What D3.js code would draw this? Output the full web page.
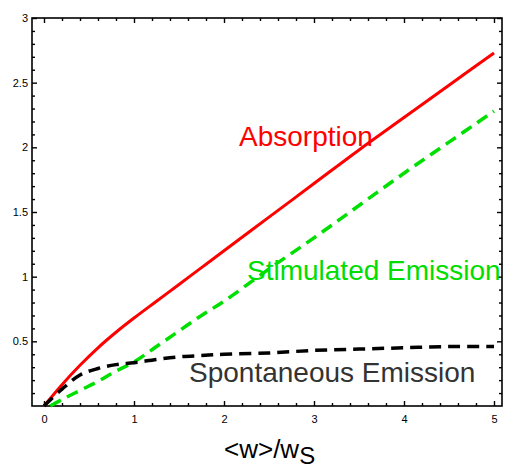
<!DOCTYPE html>
<html>
  <head>
    <meta charset="utf-8">
    <title>Absorption and emission</title>
    <script src="https://d3js.org/d3.v7.min.js"></script>
    <style>
      body { margin: 0; background: #fff; }
      text { font-family: "Liberation Sans", Arial, sans-serif; }
      .tick line { stroke: #000; stroke-width: 1.4; }
      .tick text { font-size: 11px; fill: #000; }
    </style>
  </head>
  <body>
    <div id="chart"></div>
    <script>
      // data
      var xs = [0, 0.2, 0.4, 0.6, 0.8, 1, 1.25, 1.5, 1.75, 2, 2.5, 3, 3.5, 4, 4.5, 5];
      var absorption = [0, 0.165, 0.315, 0.45, 0.57, 0.68, 0.81, 0.94, 1.07, 1.20, 1.46, 1.72, 1.98, 2.23, 2.48, 2.73];
      var spontaneous = [0, 0.13, 0.24, 0.29, 0.32, 0.335, 0.36, 0.38, 0.39, 0.40, 0.41, 0.43, 0.44, 0.45, 0.46, 0.46];
      var stimulatedX = [0.07, 0.2, 0.4, 0.6, 0.8, 1, 1.25, 1.5, 1.75, 2, 2.5, 3, 3.5, 4, 4.5, 5];
      var stimulated = [0, 0.05, 0.12, 0.19, 0.27, 0.34, 0.46, 0.58, 0.70, 0.81, 1.06, 1.30, 1.55, 1.80, 2.04, 2.28];
      var xTicks = [0, 1, 2, 3, 4, 5];
      var yTicks = [0.5, 1, 1.5, 2, 2.5, 3];
      var yTickLabels = ["0.5", "1", "1.5", "2", "2.5", "3"];

      var width = 506, height = 471;
      var frame = { left: 32, right: 502, top: 18, bottom: 406 };

      var svg = d3.select("#chart")
        .append("svg")
          .attr("width", width)
          .attr("height", height);

      var x = d3.scaleLinear()
        .domain([-12 / 90, 470 / 90 - 12 / 90])
        .range([frame.left, frame.right]);
      var y = d3.scaleLinear()
        .domain([0, 3])
        .range([frame.bottom, frame.top]);

      // minor ticks every 0.2 on x and 0.1 on y
      var xMinor = d3.range(0, 5.01, 0.2).filter(function(d) { return Math.abs(d - Math.round(d)) > 0.01; });
      var yMinor = d3.range(0.1, 3, 0.1).filter(function(d) { return Math.abs(d * 2 - Math.round(d * 2)) > 0.01; });

      function addAxis(axis, tx, ty) {
        var g = svg.append("g")
          .attr("transform", "translate(" + tx + "," + ty + ")")
          .call(axis);
        g.select(".domain").remove();
        return g;
      }

      // bottom + left with labels, top + right mirrored without
      addAxis(d3.axisBottom(x).tickValues(xTicks).tickSize(-5).tickPadding(9).tickFormat(d3.format("d")), 0, frame.bottom);
      addAxis(d3.axisBottom(x).tickValues(xMinor).tickSize(-3).tickFormat(""), 0, frame.bottom);
      addAxis(d3.axisTop(x).tickValues(xTicks).tickSize(-5).tickFormat(""), 0, frame.top);
      addAxis(d3.axisTop(x).tickValues(xMinor).tickSize(-3).tickFormat(""), 0, frame.top);
      addAxis(d3.axisLeft(y).tickValues(yTicks).tickSize(-5).tickPadding(4)
        .tickFormat(function(d, i) { return yTickLabels[i]; }), frame.left, 0);
      addAxis(d3.axisLeft(y).tickValues(yMinor).tickSize(-3).tickFormat(""), frame.left, 0);
      addAxis(d3.axisRight(y).tickValues(yTicks).tickSize(-5).tickFormat(""), frame.right, 0);
      addAxis(d3.axisRight(y).tickValues(yMinor).tickSize(-3).tickFormat(""), frame.right, 0);

      // frame
      svg.append("rect")
        .attr("x", frame.left)
        .attr("y", frame.top)
        .attr("width", frame.right - frame.left)
        .attr("height", frame.bottom - frame.top)
        .attr("fill", "none")
        .attr("stroke", "#000")
        .attr("stroke-width", 1.6);

      var line = d3.line()
        .x(function(d) { return x(d[0]); })
        .y(function(d) { return y(d[1]); })
        .curve(d3.curveCatmullRom.alpha(0.5));

      var series = [
        { xs: xs, ys: absorption, color: "#ff0000", dash: null, w: 3 },
        { xs: stimulatedX, ys: stimulated, color: "#00e000", dash: "12,7", w: 3.5 },
        { xs: xs, ys: spontaneous, color: "#000000", dash: "12,7", w: 3.5 }
      ];

      series.forEach(function(s) {
        svg.append("path")
          .datum(d3.zip(s.xs, s.ys))
          .attr("d", line)
          .attr("fill", "none")
          .attr("stroke", s.color)
          .attr("stroke-width", s.w)
          .attr("stroke-dasharray", s.dash);
      });

      // curve labels
      var labels = [
        { text: "Absorption", x: 239, y: 146, color: "#ff0000" },
        { text: "Stimulated Emission", x: 247, y: 280, color: "#00dd00" },
        { text: "Spontaneous Emission", x: 189, y: 382, color: "#333333" }
      ];
      svg.selectAll(".label")
          .data(labels)
        .enter().append("text")
          .classed("label", true)
          .attr("x", function(d) { return d.x; })
          .attr("y", function(d) { return d.y; })
          .attr("fill", function(d) { return d.color; })
          .style("font-size", "28px")
          .text(function(d) { return d.text; });

      // x axis title
      var title = svg.append("text")
        .attr("x", 224)
        .attr("y", 458)
        .attr("fill", "#000")
        .style("font-size", "26px")
        .text("<w>/w");
      title.append("tspan")
        .attr("dy", 6)
        .style("font-size", "24px")
        .text("S");
    </script>
  </body>
</html>
